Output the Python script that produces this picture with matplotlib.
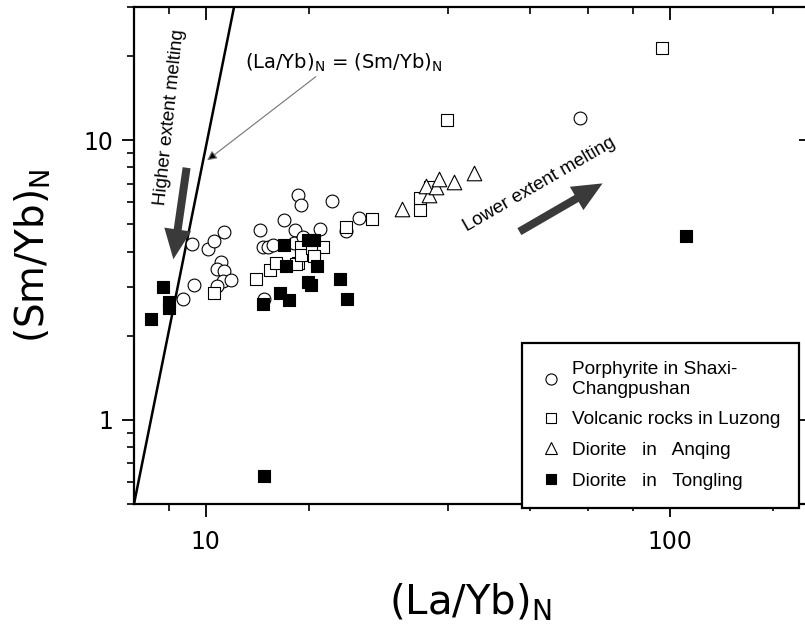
import numpy as np
import matplotlib
matplotlib.use('Agg')
import matplotlib.pyplot as plt
from matplotlib.lines import Line2D
from matplotlib.patches import FancyArrowPatch
from matplotlib.ticker import FixedLocator, NullFormatter, LogLocator

# (La/Yb)N vs (Sm/Yb)N
por_x = [9.33, 10.09, 10.43, 10.96, 10.78, 10.55, 10.96, 10.87, 11.33, 10.55, 9.45, 8.91,
         13.09, 13.26, 13.64, 13.98, 14.73, 15.58, 15.78, 16.05, 18.72, 17.66, 20.0, 21.33,
         15.52, 16.17, 13.37, 63.9]
por_y = [4.25, 4.10, 4.38, 4.69, 3.68, 3.46, 3.41, 3.15, 3.16, 3.02, 3.03, 2.70,
         4.76, 4.14, 4.15, 4.22, 5.18, 4.79, 6.36, 5.86, 6.05, 4.80, 4.75, 5.27,
         4.30, 4.52, 2.71, 12.0]

luz_x = [10.43, 12.81, 13.76, 14.18, 15.78, 15.65, 16.03, 16.05, 16.95, 17.86, 17.09,
         20.04, 22.81, 28.88, 28.96, 30.35, 33.07, 96.4]
luz_y = [2.84, 3.20, 3.45, 3.63, 3.65, 3.61, 4.17, 3.88, 4.11, 4.14, 3.87,
         4.90, 5.25, 5.62, 6.23, 6.82, 11.82, 21.4]

anq_x = [26.5, 30.24, 29.83, 31.38, 31.74, 34.2, 37.84]
anq_y = [5.70, 6.36, 6.85, 6.82, 7.30, 7.12, 7.67]

ton_x = [8.10, 8.34, 8.34, 7.63, 14.77, 16.56, 17.06, 14.85, 17.36, 16.56, 16.87, 19.41,
         14.48, 15.10, 13.26, 20.13, 13.37, 108.3]
ton_y = [2.98, 2.65, 2.51, 2.30, 4.22, 4.41, 4.41, 3.56, 3.56, 3.12, 3.03, 3.19,
         2.84, 2.68, 2.59, 2.71, 0.63, 4.55]

line_x = [7.0, 11.5]
line_y = [0.5, 30.0]

labels = ['Porphyrite in Shaxi-\nChangpushan', 'Volcanic rocks in Luzong',
          'Diorite   in   Anqing', 'Diorite   in   Tongling']

plt.rcParams['font.family'] = 'DejaVu Sans'
fig = plt.figure(figsize=(8.05, 6.28), dpi=100)
W, H = 805., 628.
L, R, T, B = 134., 807., 7., 504.
ax = fig.add_axes([L/W, 1-B/H, (R-L)/W, (B-T)/H])

ax.set_xscale('log')
ax.set_yscale('log')
ax.set_xlim(7, 197.5)
ax.set_ylim(0.5, 30)

ax.plot(line_x, line_y, color='k', lw=1.8, zorder=2)

ax.scatter(por_x, por_y, marker='o', s=85, facecolors='white', edgecolors='k', linewidths=0.8, zorder=3)
ax.scatter(luz_x, luz_y, marker='s', s=75, facecolors='white', edgecolors='k', linewidths=0.8, zorder=4)
ax.scatter(anq_x, anq_y, marker='^', s=110, facecolors='white', edgecolors='k', linewidths=0.8, zorder=4)
ax.scatter(ton_x, ton_y, marker='s', s=75, facecolors='k', edgecolors='k', linewidths=0.8, zorder=5)

# ticks
ax.set_xticks([10, 100])
ax.set_xticklabels(['10', '100'])
ax.xaxis.set_minor_locator(FixedLocator([8.333, 16.667, 33.333, 50, 66.667, 83.333, 166.667]))
ax.xaxis.set_minor_formatter(NullFormatter())
ax.set_yticks([1, 10])
ax.set_yticklabels(['1', '10'])
ax.yaxis.set_minor_locator(LogLocator(base=10, subs=np.arange(2, 10)))
ax.yaxis.set_minor_formatter(NullFormatter())
ax.tick_params(which='major', direction='out', length=9, width=1.3, labelsize=17, pad=6)
ax.tick_params(which='minor', direction='out', length=5, width=1.2)
ax.tick_params(axis='x', pad=10)
for s in ['left', 'bottom', 'top']:
    ax.spines[s].set_linewidth(1.6)
ax.spines['right'].set_visible(False)

# top ticks pointing in
axt = ax.twiny()
axt.set_xscale('log')
axt.set_xlim(ax.get_xlim())
axt.set_xticks([10, 100])
axt.xaxis.set_minor_locator(FixedLocator([8.333, 16.667, 33.333, 50, 66.667, 83.333, 166.667]))
axt.tick_params(which='major', direction='in', length=9, width=1.3, labeltop=False)
axt.tick_params(which='minor', direction='in', length=5, width=1.2)
axt.xaxis.set_minor_formatter(NullFormatter())
for s in axt.spines.values():
    s.set_visible(False)

# right ticks pointing in
axr = ax.twinx()
axr.set_yscale('log')
axr.set_ylim(ax.get_ylim())
axr.set_yticks([1, 10])
axr.yaxis.set_minor_locator(FixedLocator([]))
axr.tick_params(which='major', direction='in', length=6, width=1.3, labelright=False)
for s in axr.spines.values():
    s.set_visible(False)

ax.set_xlabel(r'(La/Yb)$_\mathrm{N}$', fontsize=29, labelpad=20)
ax.set_ylabel(r'(Sm/Yb)$_\mathrm{N}$', fontsize=28, labelpad=22)

def fr(px, py):
    return ((px - L) / (R - L), (B - py) / (B - T))

arrow_style = 'simple,tail_width=0.8,head_width=2.7,head_length=3'

# line label with thin arrow
ax.text(*fr(245, 63), r'(La/Yb)$_\mathrm{N}$ = (Sm/Yb)$_\mathrm{N}$', transform=ax.transAxes,
        fontsize=14, ha='left', va='center')
ax.add_patch(FancyArrowPatch(fr(318, 75), fr(205, 162), transform=ax.transAxes,
                             arrowstyle='-|>', mutation_scale=14, lw=0.8,
                             ec='0.45', fc='k', zorder=6))

# melting arrows
ax.text(*fr(170, 117), 'Higher extent melting', transform=ax.transAxes, rotation=84,
        fontsize=13.5, family='Liberation Sans', ha='center', va='center')
ax.add_patch(FancyArrowPatch(fr(187, 165), fr(173, 262), transform=ax.transAxes,
                             arrowstyle=arrow_style, mutation_scale=7.2,
                             color='#3a3a3a', lw=0, zorder=6))
ax.text(*fr(539, 185), 'Lower extent melting', transform=ax.transAxes, rotation=30,
        fontsize=13.5, family='Liberation Sans', ha='center', va='center', rotation_mode='anchor')
ax.add_patch(FancyArrowPatch(fr(517, 233), fr(605, 182), transform=ax.transAxes,
                             arrowstyle=arrow_style, mutation_scale=7.2,
                             color='#3a3a3a', lw=0, zorder=6))

handles = [
    Line2D([], [], ls='none', marker='o', ms=8, mfc='white', mec='k', mew=0.8),
    Line2D([], [], ls='none', marker='s', ms=7.5, mfc='white', mec='k', mew=0.8),
    Line2D([], [], ls='none', marker='^', ms=9, mfc='white', mec='k', mew=0.8),
    Line2D([], [], ls='none', marker='s', ms=7.5, mfc='k', mec='k', mew=0.8),
]
leg = ax.legend(handles, labels, loc='upper left', bbox_to_anchor=fr(522, 343),
                bbox_transform=ax.transAxes, prop={'family': 'Liberation Sans', 'size': 13.7},
                frameon=True, fancybox=False, edgecolor='k', framealpha=1,
                borderpad=0.95, handletextpad=0.6, labelspacing=0.7, handlelength=1.1,
                borderaxespad=0)
leg.get_frame().set_linewidth(1.6)
leg.set_zorder(10)

fig.savefig('out.png', dpi=100)
